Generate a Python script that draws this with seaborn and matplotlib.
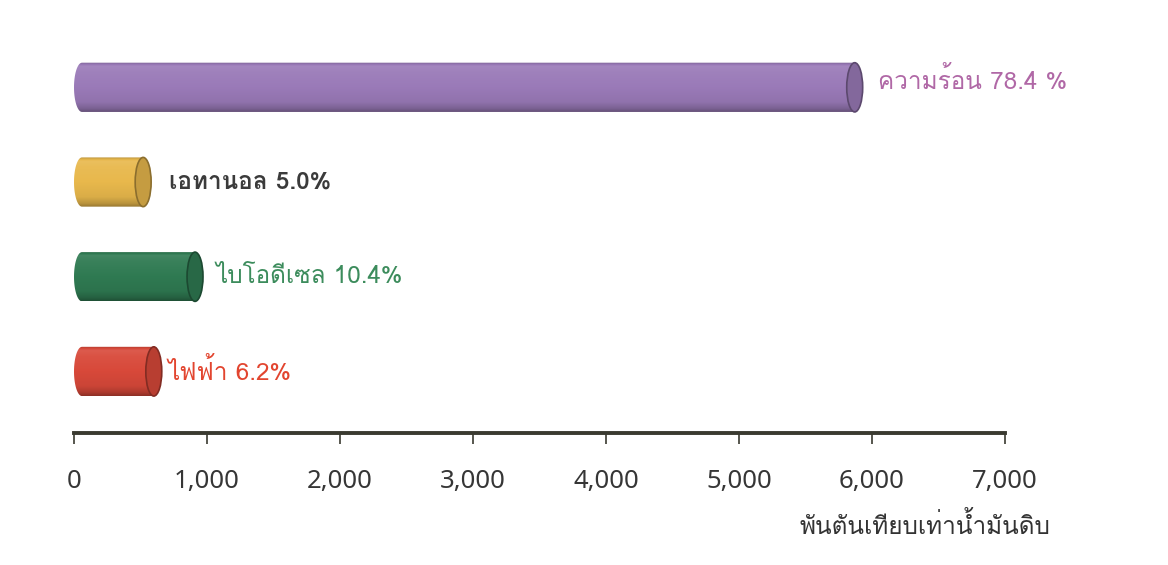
import numpy as np
import pandas as pd
import matplotlib
matplotlib.use("Agg")
import matplotlib.pyplot as plt
import seaborn as sns
from matplotlib import font_manager
from matplotlib.ft2font import FT2Font
from matplotlib.path import Path
from matplotlib.patches import PathPatch, Ellipse
from matplotlib.colors import to_rgb

# Renewable energy use by type (thousand tonnes of oil equivalent)
sources = ["ความร้อน", "เอทานอล", "ไบโอดีเซล", "ไฟฟ้า"]
ktoe = [5930, 580, 970, 660]
share_text = ["78.4 %", "5.0%", "10.4%", "6.2%"]
bar_colors = ["#9a7ab8", "#e8b84c", "#2f7a52", "#d8493a"]
label_colors = ["#b068a6", "#3b3b3b", "#3c8c5c", "#e2452f"]
label_weights = ["normal", "bold", "normal", "normal"]
label_offsets = [(11, 5), (13, 0), (9, 0), (4, 0)]
xticks = [0, 1000, 2000, 3000, 4000, 5000, 6000, 7000]
xtick_labels = ["0", "1,000", "2,000", "3,000", "4,000", "5,000", "6,000", "7,000"]
unit_label = "พันตันเทียบเท่าน้ำมันดิบ"


def thai_families():
    found = []
    for f in font_manager.fontManager.ttflist:
        try:
            if 0x0E01 in FT2Font(f.fname).get_charmap() and f.name not in found:
                found.append(f.name)
        except Exception:
            pass
    return found


sns.set_theme(style="white")
fams = thai_families()
plt.rcParams["font.family"] = fams + ["DejaVu Sans"]

fig = plt.figure(figsize=(11.68, 5.65), dpi=100)
ax = fig.add_axes([74 / 1168, 1 - 433 / 565, (1005 - 74) / 1168, (433 - 30.5) / 565])

df = pd.DataFrame({"source": sources, "ktoe": ktoe})
sns.barplot(data=df, x="ktoe", y="source", hue="source", palette=bar_colors,
            width=0.52, legend=False, orient="h", ax=ax)

ylim = (3.65, -0.6)
rx = 60.0  # horizontal radius of the cylinder ends, in data units


def shade(rgb, f):
    rgb = np.asarray(rgb)
    if f >= 1:
        return rgb + (1 - rgb) * (f - 1)
    return rgb * f


prof_t = np.array([0.0, 0.08, 0.2, 0.5, 0.8, 0.93, 1.0])
prof_f = np.array([0.82, 1.10, 1.05, 1.0, 0.94, 0.80, 0.65])

for patch, color, lab, txt, lc, lw, off in zip(ax.patches, bar_colors, sources, share_text,
                                               label_colors, label_weights, label_offsets):
    x0, w = patch.get_x(), patch.get_width()
    y0, h = patch.get_y(), patch.get_height()
    x1 = x0 + w
    yc = y0 + h / 2
    patch.set_visible(False)
    base = to_rgb(color)

    th_l = np.linspace(np.pi / 2, 3 * np.pi / 2, 40)
    th_r = np.linspace(-np.pi / 2, np.pi / 2, 40)
    left = np.column_stack([x0 + rx + rx * np.cos(th_l), yc - (h / 2) * np.sin(th_l)])
    right = np.column_stack([x1 - rx + rx * np.cos(th_r), yc - (h / 2) * np.sin(th_r)])
    verts = np.vstack([left, right, left[:1]])
    outline = Path(verts, closed=True)
    clip = PathPatch(outline, transform=ax.transData, facecolor="none", edgecolor="none")
    ax.add_patch(clip)

    t = np.linspace(0, 1, 120)
    f = np.interp(t, prof_t, prof_f)
    img = np.array([shade(base, v) for v in f]).reshape(-1, 1, 3).clip(0, 1)
    im = ax.imshow(img, extent=(x0, x1, y0 + h, y0), origin="upper",
                   aspect="auto", interpolation="bilinear", zorder=2)
    im.set_clip_path(clip)

    cap = Ellipse((x1 - rx, yc), 2 * rx, h, facecolor=shade(base, 0.85),
                  edgecolor=shade(base, 0.6), linewidth=1.2, zorder=3)
    ax.add_patch(cap)

    ax.annotate(f"{lab} {txt}", xy=(x1, yc), xytext=off, textcoords="offset points",
                ha="left", va="center", fontsize=17.5, color=lc, fontweight=lw)

ax.set_xlim(0, 7000)
ax.set_ylim(*ylim)
ax.set_yticks([])
ax.set_ylabel("")
ax.set_xlabel("")
ax.set_xticks(xticks)
ax.set_xticklabels(xtick_labels, family=["Noto Sans", "DejaVu Sans"], fontweight="medium")
for s in ["top", "right", "left"]:
    ax.spines[s].set_visible(False)
ax.spines["bottom"].set_color("#3a3a30")
ax.spines["bottom"].set_linewidth(2.8)
ax.tick_params(axis="x", direction="out", length=8, width=1.2, color="#3a3a30",
               labelsize=18.5, labelcolor="#363636", pad=18, bottom=True)

fig.text(1050 / 1168, 1 - 525 / 565, unit_label, ha="right", va="center",
         fontsize=17.5, color="#333333")

fig.savefig("out.png", dpi=100, facecolor="white")
